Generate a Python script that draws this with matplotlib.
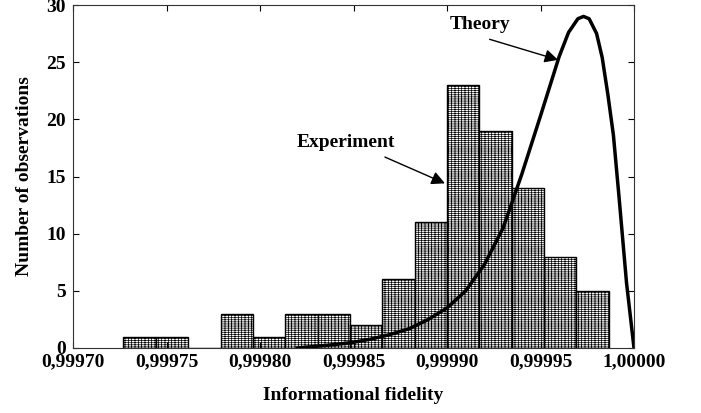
import matplotlib.pyplot as plt
from matplotlib.ticker import FuncFormatter
import numpy as np

plt.rcParams['font.family'] = ['Liberation Serif', 'DejaVu Serif']
plt.rcParams['font.weight'] = 'bold'
plt.rcParams['hatch.linewidth'] = 0.5

bin_start = 0.999727
bin_width = 0.0000173
counts = [1, 1, 0, 3, 1, 3, 3, 2, 6, 11, 23, 19, 14, 8, 5]

# theoretical curve
theory_x = [0.99982, 0.99983, 0.99984, 0.99985, 0.99986, 0.99987, 0.99988, 0.99989,
            0.99990, 0.99991, 0.99992, 0.99993, 0.99994, 0.99995, 0.99996, 0.999965,
            0.99997, 0.999973, 0.999976, 0.99998, 0.999983, 0.999986, 0.999989,
            0.999992, 0.999996, 1.0]
theory_y = [0.0, 0.15, 0.3, 0.5, 0.8, 1.2, 1.7, 2.5, 3.5, 5.0, 7.3, 10.5, 15.2, 20.3,
            25.5, 27.6, 28.8, 29.0, 28.8, 27.5, 25.4, 22.2, 18.6, 13.2, 5.7, 0.0]

xticks = [0.99970, 0.99975, 0.99980, 0.99985, 0.99990, 0.99995, 1.00000]

fig = plt.figure(figsize=(7.01, 4.13), dpi=100)
ax = fig.add_axes([73 / 701, 65 / 413, 561 / 701, 343 / 413])

lefts = bin_start + bin_width * np.arange(len(counts))
ax.bar(lefts, counts, width=bin_width, align='edge', color='white',
       edgecolor='black', linewidth=1.0, hatch='--------|||||')
ax.plot(theory_x, theory_y, color='black', linewidth=2.5)

ax.set_xlim(0.99970, 1.00000)
ax.set_ylim(0, 30)
ax.set_xticks(xticks)
ax.xaxis.set_major_formatter(FuncFormatter(lambda v, p: f"{v:.5f}".replace('.', ',')))
ax.set_yticks(range(0, 31, 5))
ax.tick_params(direction='in', top=True, right=True, length=4, labelsize=14)
ax.tick_params(axis='y', pad=5)
ax.tick_params(axis='x', pad=4)
for s in ax.spines.values():
    s.set_color('#333333')

ax.set_xlabel('Informational fidelity', fontsize=14, fontweight='bold', labelpad=12)
ax.set_ylabel('Number of observations', fontsize=14, fontweight='bold', labelpad=10)

arrow = dict(arrowstyle='-|>', color='black', lw=1, mutation_scale=20,
             shrinkA=0, shrinkB=0)
ax.text(0.9999176, 28.3, 'Theory', fontsize=14, fontweight='bold',
        ha='center', va='center')
ax.annotate('', xy=(0.9999594, 25.2), xytext=(0.9999228, 27.0), arrowprops=arrow)
ax.text(0.999846, 18.0, 'Experiment', fontsize=14, fontweight='bold',
        ha='center', va='center')
ax.annotate('', xy=(0.9998989, 14.4), xytext=(0.9998668, 16.7), arrowprops=arrow)

plt.savefig('out.png', dpi=100)
